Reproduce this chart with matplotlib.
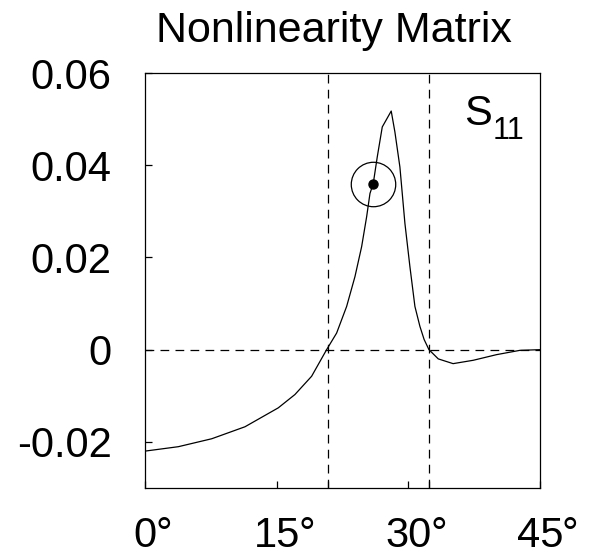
import matplotlib
matplotlib.use("Agg")
import matplotlib.pyplot as plt
from matplotlib.transforms import blended_transform_factory, offset_copy

plt.rcParams['font.family'] = ['Liberation Sans', 'DejaVu Sans']

angle = [0.0, 3.8, 7.6, 11.39, 15.18, 17.08, 18.98, 20.69, 21.83, 22.97, 23.92,
         24.68, 25.25, 25.63, 26.0, 26.46, 27.03, 28.05, 28.47, 29.04, 29.61, 30.18,
         30.75, 31.32, 31.8, 32.35, 33.41, 35.1, 37.4, 40.05, 42.7, 45.0]
s11 = [-0.0220, -0.02104, -0.01932, -0.01672, -0.01262, -0.00973, -0.00577, 0.0,
       0.0036, 0.00937, 0.01585, 0.02234, 0.02883, 0.03388, 0.0360, 0.0418, 0.0483,
       0.05175, 0.0472, 0.0396, 0.0274, 0.0180, 0.00937, 0.00504, 0.0022, 0.0,
       -0.0020, -0.00303, -0.0023, -0.00108, -0.00015, 0.0]
marker_angle = [26.0]
marker_value = [0.036]
crit_angles = [20.8, 32.35]
xticks = [0, 15, 30, 45]
xtick_labels = ['0', '15', '30', '45']
yticks = [-0.02, 0, 0.02, 0.04, 0.06]
ytick_labels = ['-0.02', '0', '0.02', '0.04', '0.06']

fig = plt.figure(figsize=(5.89, 5.56), dpi=100)
ax = fig.add_axes([0.2462, 0.1223, 0.6706, 0.7464])
ax.plot(angle, s11, color='black', lw=0.9)
ax.axhline(0, color='black', lw=0.9, ls=(0, (7, 5)))
for c in crit_angles:
    ax.axvline(c, color='black', lw=0.9, ls=(0, (7, 5)))
ax.plot(marker_angle, marker_value, 'o', ms=6.5, color='black')
ax.plot(marker_angle, marker_value, 'o', ms=32, mfc='none', mec='black', mew=0.9)
ax.set_xlim(0, 45)
ax.set_ylim(-0.03, 0.06)
ax.set_xticks(xticks + crit_angles)
ax.set_xticklabels(xtick_labels + ['', ''])
ax.set_yticks(yticks)
ax.set_yticklabels(ytick_labels)
ax.tick_params(direction='in', length=5, width=0.9)
ax.tick_params(axis='x', pad=20, labelsize=30)
ax.tick_params(axis='y', pad=24, labelsize=30)
for s in ax.spines.values():
    s.set_linewidth(0.9)

# degree signs attached to the right of the centred digits
bt = blended_transform_factory(ax.transData, ax.transAxes)
for t, lab in zip(xticks, xtick_labels):
    half = 0.556 * 30 * len(lab) / 2
    tr = offset_copy(bt, fig=fig, x=half - 1, y=-20, units='points')
    ax.text(t, 0, '°', transform=tr, ha='left', va='top', fontsize=30, clip_on=False)

ax.text(492, 556 - 125, 'S', transform=None, ha='right', va='baseline', fontsize=30)
ax.text(493, 556 - 139, '11', transform=None, ha='left', va='baseline', fontsize=22)
fig.text(333.5 / 589, 1 - 42 / 556, 'Nonlinearity Matrix', ha='center', va='baseline', fontsize=31)
fig.savefig('out.png', dpi=100)
